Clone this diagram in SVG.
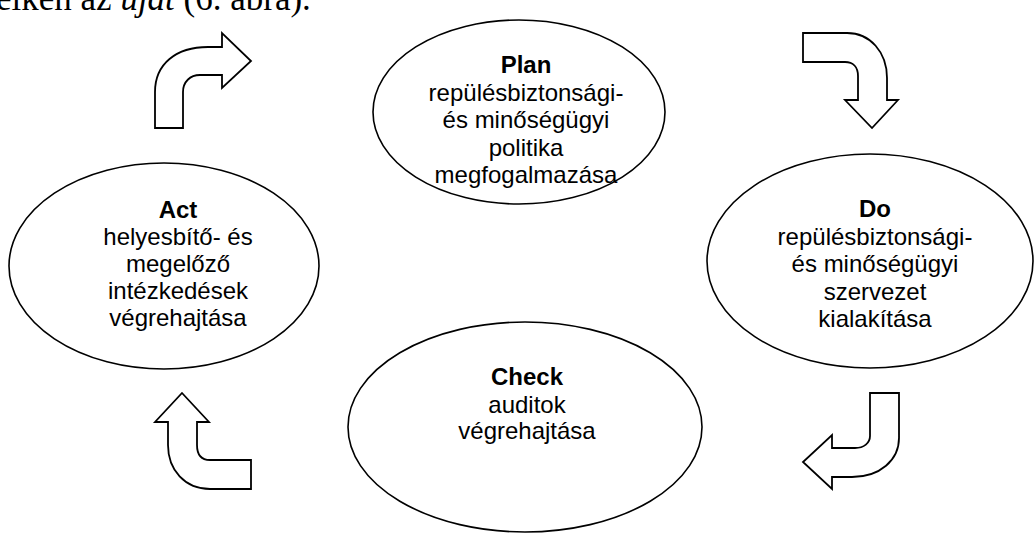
<svg xmlns="http://www.w3.org/2000/svg" width="1034" height="533" viewBox="0 0 1034 533">
<style>
.node ellipse{fill:#fff;stroke:#000;stroke-width:1.6}
.arrow{fill:#fff;stroke:#000;stroke-width:1.8;stroke-linejoin:miter}
.t{font-family:"Liberation Sans",Arial,sans-serif;font-size:24px;text-anchor:middle;fill:#000}
.b{font-weight:bold}
.body{font-family:"Liberation Serif","Times New Roman",serif;font-size:35px;fill:#000}
</style>
<rect width="1034" height="533" fill="#fff"/>
<text class="body" x="-4" y="10">elken az <tspan font-style="italic">újat</tspan> (6. ábra).</text>
<g id="connectors">
<path class="arrow" d="M155,128 V92 C155,64 176,47 208,47 H222 V33 L251,61 L222,88 V75 H200 C190,75 183,82 183,92 V128 Z"/>
<path class="arrow" d="M803,33 H847 C870,33 887,52 887,78 V100 H898 L872,128 L845,100 H858 V76 C858,67 853,62 845,62 H803 Z"/>
<path class="arrow" d="M870,393 H899 V438 C899,460 880,477 852,477 H832 V489 L803,462 L832,435 V448 H855 C864,448 870,443 870,436 Z"/>
<path class="arrow" d="M182,393 L209,422 H197 V445 C197,455 201,460 210,460 H251 V489 H210 C185,489 168,470 168,445 V422 H155 Z"/>
</g>
<g id="plan" class="node">
<ellipse cx="519" cy="112" rx="146" ry="92"/>
<text class="t b" x="526" y="73">Plan</text>
<text class="t" x="526" y="101">repülésbiztonsági-</text>
<text class="t" x="526" y="128">és minőségügyi</text>
<text class="t" x="526" y="156">politika</text>
<text class="t" x="526" y="183">megfogalmazása</text>
</g>
<g id="act" class="node">
<ellipse cx="164" cy="266" rx="155" ry="103"/>
<text class="t b" x="178" y="218">Act</text>
<text class="t" x="178" y="245">helyesbítő- és</text>
<text class="t" x="178" y="272">megelőző</text>
<text class="t" x="178" y="299">intézkedések</text>
<text class="t" x="178" y="326">végrehajtása</text>
</g>
<g id="do" class="node">
<ellipse cx="870" cy="261" rx="163" ry="107"/>
<text class="t b" x="875" y="217">Do</text>
<text class="t" x="875" y="245">repülésbiztonsági-</text>
<text class="t" x="875" y="272">és minőségügyi</text>
<text class="t" x="875" y="300">szervezet</text>
<text class="t" x="875" y="327">kialakítása</text>
</g>
<g id="check" class="node">
<ellipse cx="525" cy="427" rx="177" ry="105"/>
<text class="t b" x="527" y="385">Check</text>
<text class="t" x="527" y="413">auditok</text>
<text class="t" x="527" y="439">végrehajtása</text>
</g>
</svg>
